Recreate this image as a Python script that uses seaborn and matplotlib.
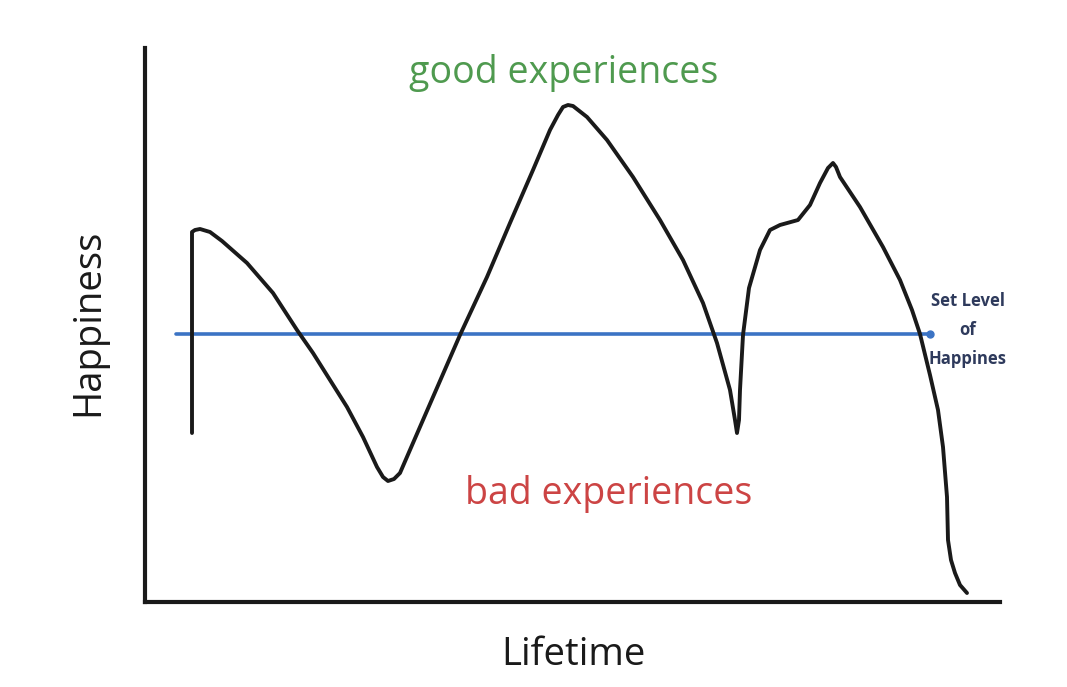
import matplotlib
matplotlib.use("Agg")
import matplotlib.pyplot as plt
import seaborn as sns

# Hand-drawn happiness curve (lifetime position, happiness level)
lifetime = [192, 192, 195, 200, 210, 222, 247, 273, 297, 313, 330, 347, 363, 377, 383, 388, 394,
            400, 413, 433, 460, 487, 510, 533, 550, 558, 563, 568, 573, 587, 607, 633, 660, 683,
            703, 717, 730, 735, 737, 739, 740, 743, 749, 760, 770, 780, 798, 810, 820, 828, 833,
            836, 840, 860, 883, 900, 912, 920, 930, 938, 943, 947, 948, 951, 955, 960, 967]
happiness = [254, 455, 457, 458, 455, 446, 424, 394, 357, 334, 307, 280, 250, 220, 210, 206, 208,
             214, 244, 290, 352, 410, 464, 517, 557, 572, 580, 582, 581, 570, 547, 510, 467, 427,
             384, 344, 297, 267, 254, 267, 297, 352, 399, 437, 457, 462, 467, 482, 504, 519, 524,
             520, 510, 480, 440, 407, 377, 353, 312, 277, 240, 190, 147, 127, 114, 102, 94]

set_level_x = [176, 930]
set_level_y = [353, 353]

sns.set_style("white")
plt.rcParams['font.family'] = ['Open Sans', 'DejaVu Sans']

fig = plt.figure(figsize=(10.67, 6.87), dpi=100)
ax = fig.add_axes([145 / 1067, 85 / 687, (1000 - 145) / 1067, (639 - 85) / 687])

sns.lineplot(x=set_level_x, y=set_level_y, sort=False, estimator=None, errorbar=None, ax=ax,
             color="#3b73c4", linewidth=2.6)
ax.plot([set_level_x[-1]], [set_level_y[-1]], "o", color="#3b73c4", markersize=5)
sns.lineplot(x=lifetime, y=happiness, sort=False, estimator=None, errorbar=None, ax=ax,
             color="#1a1a1a", linewidth=2.8, solid_capstyle="round", solid_joinstyle="round")

ax.set_xlim(145, 1000)
ax.set_ylim(85, 639)
ax.set_xticks([])
ax.set_yticks([])
for s in ["top", "right"]:
    ax.spines[s].set_visible(False)
for s in ["left", "bottom"]:
    ax.spines[s].set_linewidth(3)
    ax.spines[s].set_color("#1a1a1a")

ax.text(564, 614, "good experiences", color="#4f9a4f", fontsize=27, ha="center", va="center")
ax.text(609, 193, "bad experiences", color="#cc4444", fontsize=27, ha="center", va="center")
ax.text(968, 357, "Set Level\nof\nHappines", color="#2e3a5c", fontsize=12, ha="center",
        va="center", fontweight="bold", linespacing=1.8)

fig.text(573 / 1067, 1 - 655 / 687, "Lifetime", fontsize=27.5, ha="center", va="center", color="#1a1a1a")
fig.text(88 / 1067, 1 - 322 / 687, "Happiness", fontsize=27.5, ha="center", va="center",
         rotation=90, color="#1a1a1a")

fig.savefig("out.png", dpi=100, facecolor="white")
